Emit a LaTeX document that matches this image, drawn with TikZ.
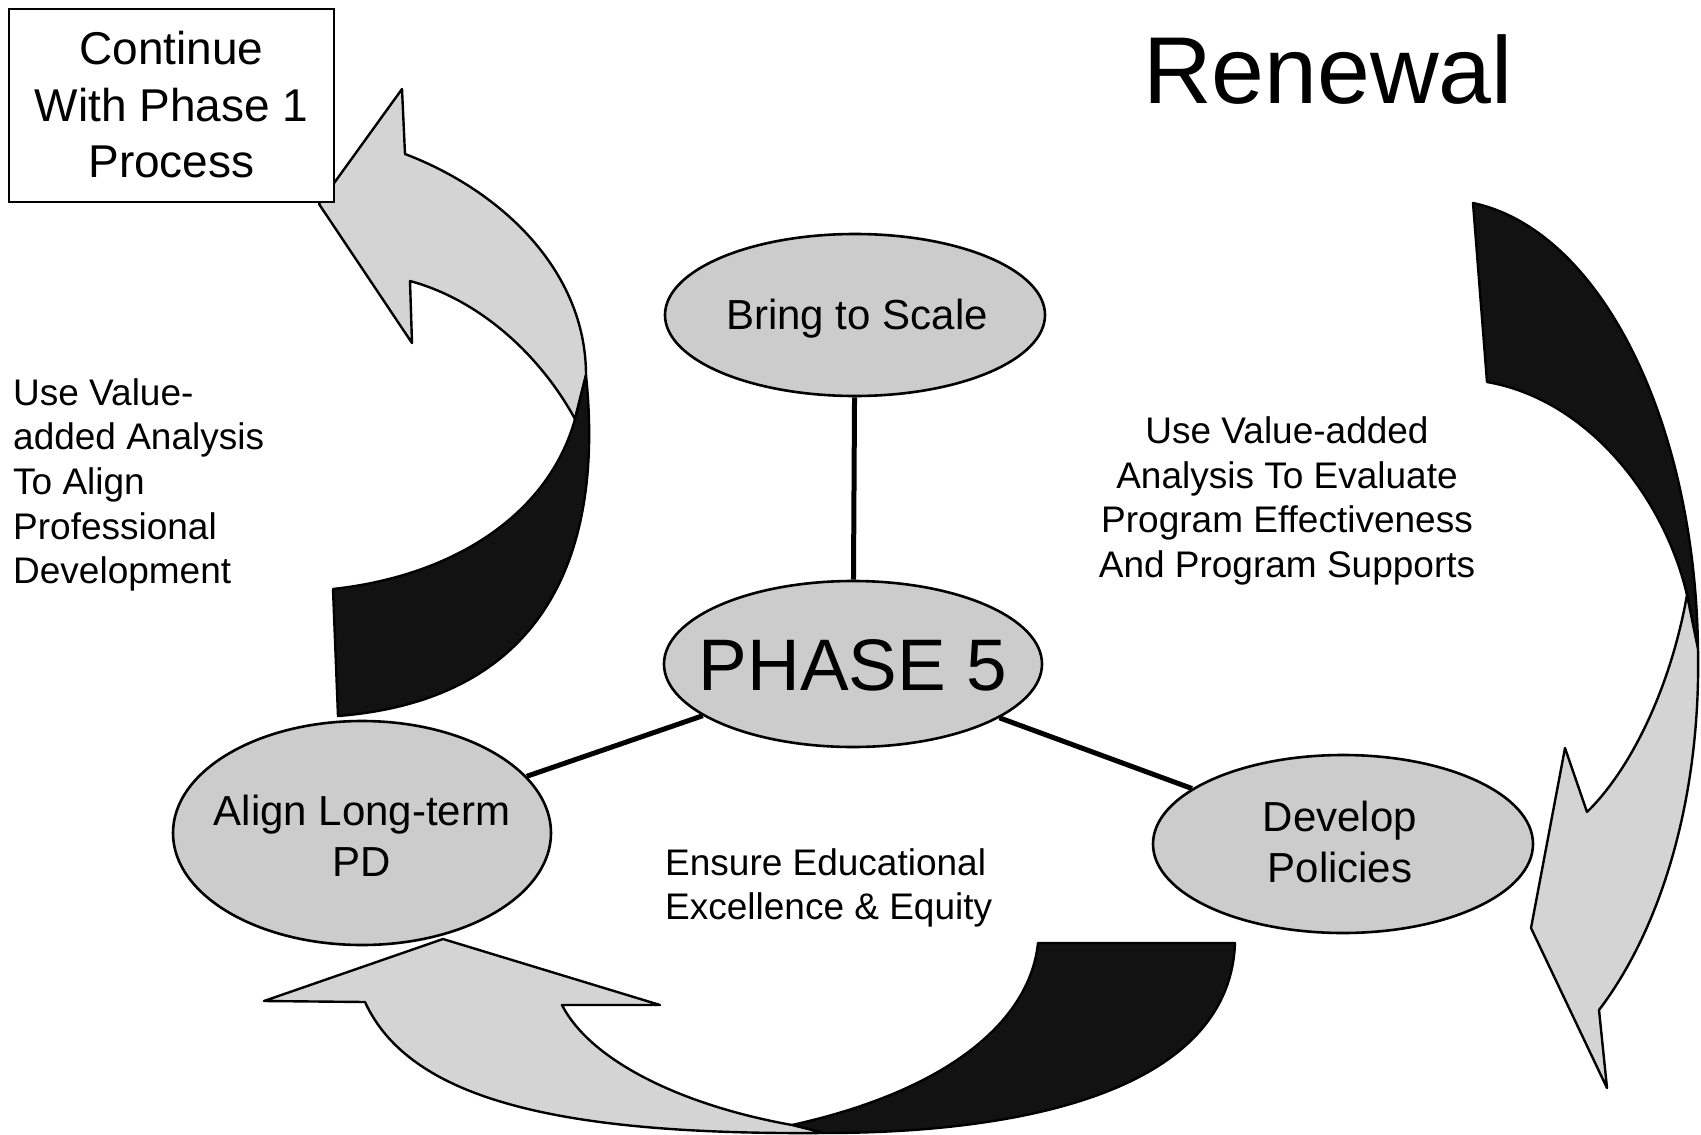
\documentclass[tikz,border=0pt]{standalone}
\usepackage{fontspec}
\setmainfont{Liberation Sans}
\usetikzlibrary{shapes.geometric}
\definecolor{ellgray}{gray}{0.80}
\definecolor{argray}{gray}{0.83}
\definecolor{backband}{gray}{0.07}
\begin{document}
\begin{tikzpicture}[x=1pt,y=-1pt,
  bubble/.style={ellipse, draw=black, line width=2.6pt, fill=ellgray, inner sep=0pt},
  conn/.style={line width=5pt},
  band/.style={draw=black, line width=2.4pt, line join=round},
  front/.style={band, fill=argray},
  back/.style={band, fill=backband},
  txt/.style={inner sep=0pt, text=black},
  tsmall/.style={txt, font=\fontsize{37}{44.6}\selectfont},
  tmid/.style={txt, font=\fontsize{42}{51}\selectfont, align=center},
  boxstyle/.style={draw=black, line width=2pt, fill=white, inner sep=0pt,
     minimum width=325, minimum height=193, align=center,
     font=\fontsize{46}{56.5}\selectfont}
]
\useasboundingbox (0,0) rectangle (1701,1135);
\fill[white] (0,0) rectangle (1701,1135);

% ellipses
\node[bubble, minimum width=380, minimum height=162] (bring) at (855,315) {};
\node[bubble, minimum width=378, minimum height=166] (phase) at (853,664) {};
\node[bubble, minimum width=378, minimum height=224] (align) at (362,833) {};
\node[bubble, minimum width=380, minimum height=178] (develop) at (1343,844) {};

% connectors
\draw[conn] (bring) -- (phase);
\draw[conn] (phase) -- (align);
\draw[conn] (phase) -- (develop);

% ellipse texts
\node[txt, anchor=base, font=\fontsize{42}{51}\selectfont] (tbring) at (857,329) {Bring to Scale};
\node[txt, anchor=base, font=\fontsize{73}{88}\selectfont] (tphase) at (853,690) {PHASE 5};
\node[tmid] (talign) at (362,836) {Align Long-term\\PD};
\node[tmid] (tdevelop) at (1340,842) {Develop\\Policies};

% arrow 1 (top left)
\path[front] (402,89) -- (405,154)
  .. controls (500,190) and (586,270) .. (586,375)
  -- (575,419)
  .. controls (540,355) and (480,300) .. (410,281)
  -- (412,343) -- (319,204) -- cycle;
\path[back] (586,375)
  .. controls (605,560) and (540,700) .. (338,716)
  -- (333,589)
  .. controls (460,575) and (550,510) .. (575,419)
  -- cycle;

% arrow 2 (right)
\path[back] (1473,203)
  .. controls (1600,230) and (1695,420) .. (1698,649)
  -- (1687,595)
  .. controls (1665,500) and (1590,400) .. (1487,382)
  -- cycle;
\path[front] (1687,595)
  .. controls (1670,690) and (1630,770) .. (1587,812)
  -- (1565,748) -- (1531,928) -- (1607,1088) -- (1599,1010)
  .. controls (1660,930) and (1701,800) .. (1698,649)
  -- cycle;

% arrow 3 (bottom)
\path[back] (792,1125)
  .. controls (950,1090) and (1030,1020) .. (1038,943)
  -- (1235,943)
  .. controls (1230,1080) and (1050,1133) .. (824,1133)
  -- cycle;
\path[front] (562,1005) -- (660,1005) -- (443,939) -- (264,1001) -- (365,1002)
  .. controls (410,1100) and (560,1135) .. (824,1133)
  -- (792,1125)
  .. controls (680,1105) and (590,1060) .. (562,1005)
  -- cycle;

% box
\node[boxstyle] (box) at (171.5,105) {Continue\\With Phase 1\\Process};

% title
\node[txt, anchor=base, font=\fontsize{95}{110}\selectfont] (title) at (1328,103) {Renewal};

% free texts
\node[tsmall, anchor=west, align=left] (tleft) at (13,485) {Use Value-\\added Analysis\\To Align\\Professional\\Development};
\node[tsmall, align=center] (tright) at (1287,501) {Use Value-added\\Analysis To Evaluate\\Program Effectiveness\\And Program Supports};
\node[tsmall, anchor=west, align=left] (tbottom) at (665,888) {Ensure Educational\\Excellence \& Equity};
\end{tikzpicture}
\end{document}
